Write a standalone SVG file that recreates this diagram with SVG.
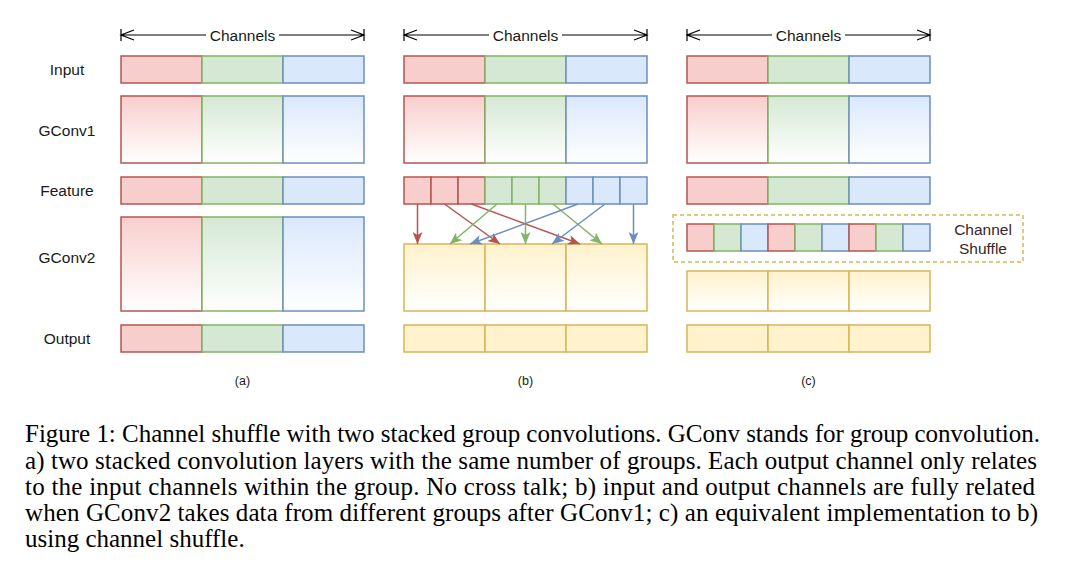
<svg xmlns="http://www.w3.org/2000/svg" width="1070" height="567" viewBox="0 0 1070 567">
<style>
.lbl{font-family:"Liberation Sans",Arial,sans-serif;font-size:15.5px;fill:#1a1a1a;text-anchor:middle}
.sub{font-family:"Liberation Sans",Arial,sans-serif;font-size:12.5px;fill:#1a1a1a;text-anchor:middle}
.cap{font-family:"Liberation Serif","Times New Roman",serif;font-size:25px;fill:#000}
.r{fill:#f8cecc;stroke:#b85450;stroke-width:1.5}
.g{fill:#d5e8d4;stroke:#82b366;stroke-width:1.5}
.b{fill:#dae8fc;stroke:#6c8ebf;stroke-width:1.5}
.y{fill:#fff2cc;stroke:#d6b656;stroke-width:1.5}
.rg{fill:url(#gr);stroke:#b85450;stroke-width:1.5}
.gg{fill:url(#gg);stroke:#82b366;stroke-width:1.5}
.bg{fill:url(#gb);stroke:#6c8ebf;stroke-width:1.5}
.yg{fill:url(#gy);stroke:#d6b656;stroke-width:1.5}
.dim{stroke:#000;stroke-width:1.2;fill:none}
.ar{stroke:#b85450;stroke-width:1.5;fill:none;marker-end:url(#mr)}
.ag{stroke:#82b366;stroke-width:1.5;fill:none;marker-end:url(#mg)}
.ab{stroke:#6c8ebf;stroke-width:1.5;fill:none;marker-end:url(#mb)}
</style>
<defs>
<linearGradient id="gr" x1="0" y1="0" x2="0" y2="1"><stop offset="0" stop-color="#f8cecc"/><stop offset="1" stop-color="#ffffff"/></linearGradient>
<linearGradient id="gg" x1="0" y1="0" x2="0" y2="1"><stop offset="0" stop-color="#d5e8d4"/><stop offset="1" stop-color="#ffffff"/></linearGradient>
<linearGradient id="gb" x1="0" y1="0" x2="0" y2="1"><stop offset="0" stop-color="#dae8fc"/><stop offset="1" stop-color="#ffffff"/></linearGradient>
<linearGradient id="gy" x1="0" y1="0" x2="0" y2="1"><stop offset="0" stop-color="#fff2cc"/><stop offset="1" stop-color="#ffffff"/></linearGradient>
<marker id="mr" markerUnits="userSpaceOnUse" viewBox="0 0 12 10" refX="12" refY="5" markerWidth="12" markerHeight="10" orient="auto"><path d="M0,0 L12,5 L0,10 L3,5 z" fill="#b85450"/></marker>
<marker id="mg" markerUnits="userSpaceOnUse" viewBox="0 0 12 10" refX="12" refY="5" markerWidth="12" markerHeight="10" orient="auto"><path d="M0,0 L12,5 L0,10 L3,5 z" fill="#82b366"/></marker>
<marker id="mb" markerUnits="userSpaceOnUse" viewBox="0 0 12 10" refX="12" refY="5" markerWidth="12" markerHeight="10" orient="auto"><path d="M0,0 L12,5 L0,10 L3,5 z" fill="#6c8ebf"/></marker>
</defs>
<rect width="1070" height="567" fill="#ffffff"/>

<g id="row-labels">
<text class="lbl" x="67" y="74.5">Input</text>
<text class="lbl" x="67" y="135.5">GConv1</text>
<text class="lbl" x="67" y="195.5">Feature</text>
<text class="lbl" x="67" y="262.5">GConv2</text>
<text class="lbl" x="67" y="343.5">Output</text>
</g>

<g id="dimensions">
<g id="dim-a">
<path class="dim" d="M121,35 H206 M279,35 H364 M121,29 V41 M364,29 V41 M134,30 L121,35 L134,40 M351,30 L364,35 L351,40"/>
<text class="lbl" x="242.5" y="40.5">Channels</text>
</g>
<g id="dim-b">
<path class="dim" d="M404,35 H489 M562,35 H647 M404,29 V41 M647,29 V41 M417,30 L404,35 L417,40 M634,30 L647,35 L634,40"/>
<text class="lbl" x="525.5" y="40.5">Channels</text>
</g>
<g id="dim-c">
<path class="dim" d="M687,35 H772 M845,35 H930 M687,29 V41 M930,29 V41 M700,30 L687,35 L700,40 M917,30 L930,35 L917,40"/>
<text class="lbl" x="808.5" y="40.5">Channels</text>
</g>
</g>

<!-- Panel a -->
<g id="a-input"><rect class="r" x="121" y="56" width="81" height="27"/><rect class="g" x="202" y="56" width="81" height="27"/><rect class="b" x="283" y="56" width="81" height="27"/></g>
<g id="a-gconv1"><rect class="rg" x="121" y="96" width="81" height="67"/><rect class="gg" x="202" y="96" width="81" height="67"/><rect class="bg" x="283" y="96" width="81" height="67"/></g>
<g id="a-feature"><rect class="r" x="121" y="177" width="81" height="27"/><rect class="g" x="202" y="177" width="81" height="27"/><rect class="b" x="283" y="177" width="81" height="27"/></g>
<g id="a-gconv2"><rect class="rg" x="121" y="217" width="81" height="94"/><rect class="gg" x="202" y="217" width="81" height="94"/><rect class="bg" x="283" y="217" width="81" height="94"/></g>
<g id="a-output"><rect class="r" x="121" y="325" width="81" height="27"/><rect class="g" x="202" y="325" width="81" height="27"/><rect class="b" x="283" y="325" width="81" height="27"/></g>
<text class="sub" x="242.5" y="384.5">(a)</text>

<!-- Panel b -->
<g id="b-input"><rect class="r" x="404" y="56" width="81" height="27"/><rect class="g" x="485" y="56" width="81" height="27"/><rect class="b" x="566" y="56" width="81" height="27"/></g>
<g id="b-gconv1"><rect class="rg" x="404" y="96" width="81" height="67"/><rect class="gg" x="485" y="96" width="81" height="67"/><rect class="bg" x="566" y="96" width="81" height="67"/></g>
<g id="b-feature">
<rect class="r" x="404" y="177" width="27" height="27"/><rect class="r" x="431" y="177" width="27" height="27"/><rect class="r" x="458" y="177" width="27" height="27"/>
<rect class="g" x="485" y="177" width="27" height="27"/><rect class="g" x="512" y="177" width="27" height="27"/><rect class="g" x="539" y="177" width="27" height="27"/>
<rect class="b" x="566" y="177" width="27" height="27"/><rect class="b" x="593" y="177" width="27" height="27"/><rect class="b" x="620" y="177" width="27" height="27"/>
</g>
<g id="b-gconv2"><rect class="yg" x="404" y="244" width="81" height="67"/><rect class="yg" x="485" y="244" width="81" height="67"/><rect class="yg" x="566" y="244" width="81" height="67"/></g>
<g id="b-output"><rect class="y" x="404" y="325" width="81" height="27"/><rect class="y" x="485" y="325" width="81" height="27"/><rect class="y" x="566" y="325" width="81" height="27"/></g>
<text class="sub" x="525.5" y="384.5">(b)</text>

<g id="connectors">
<line class="ar" x1="417.5" y1="204" x2="417.5" y2="244"/>
<line class="ar" x1="444.5" y1="204" x2="500" y2="244"/>
<line class="ar" x1="471.5" y1="204" x2="580" y2="244"/>
<line class="ag" x1="497" y1="204" x2="450" y2="244"/>
<line class="ag" x1="525.5" y1="204" x2="525.5" y2="244"/>
<line class="ag" x1="553" y1="204" x2="602" y2="244"/>
<line class="ab" x1="578" y1="204" x2="470" y2="244"/>
<line class="ab" x1="605" y1="204" x2="552" y2="244"/>
<line class="ab" x1="633.5" y1="204" x2="633.5" y2="244"/>
</g>

<!-- Panel c -->
<g id="c-input"><rect class="r" x="687" y="56" width="81" height="27"/><rect class="g" x="768" y="56" width="81" height="27"/><rect class="b" x="849" y="56" width="81" height="27"/></g>
<g id="c-gconv1"><rect class="rg" x="687" y="96" width="81" height="67"/><rect class="gg" x="768" y="96" width="81" height="67"/><rect class="bg" x="849" y="96" width="81" height="67"/></g>
<g id="c-feature"><rect class="r" x="687" y="177" width="81" height="27"/><rect class="g" x="768" y="177" width="81" height="27"/><rect class="b" x="849" y="177" width="81" height="27"/></g>
<g id="c-shuffle">
<rect x="673" y="215" width="350" height="47" fill="none" stroke="#d6b656" stroke-width="1.5" stroke-dasharray="4,3"/>
<rect class="r" x="687" y="224" width="27" height="27"/><rect class="g" x="714" y="224" width="27" height="27"/><rect class="b" x="741" y="224" width="27" height="27"/>
<rect class="r" x="768" y="224" width="27" height="27"/><rect class="g" x="795" y="224" width="27" height="27"/><rect class="b" x="822" y="224" width="27" height="27"/>
<rect class="r" x="849" y="224" width="27" height="27"/><rect class="g" x="876" y="224" width="27" height="27"/><rect class="b" x="903" y="224" width="27" height="27"/>
<text class="lbl" x="983" y="235" style="fill:#3a2626">Channel</text>
<text class="lbl" x="983" y="254" style="fill:#3a2626">Shuffle</text>
</g>
<g id="c-gconv2"><rect class="yg" x="687" y="271" width="81" height="40"/><rect class="yg" x="768" y="271" width="81" height="40"/><rect class="yg" x="849" y="271" width="81" height="40"/></g>
<g id="c-output"><rect class="y" x="687" y="325" width="81" height="27"/><rect class="y" x="768" y="325" width="81" height="27"/><rect class="y" x="849" y="325" width="81" height="27"/></g>
<text class="sub" x="808.5" y="384.5">(c)</text>

<g id="caption">
<text class="cap" x="25" y="442" textLength="1015" lengthAdjust="spacing">Figure 1: Channel shuffle with two stacked group convolutions. GConv stands for group convolution.</text>
<text class="cap" x="25" y="468.5" textLength="1012" lengthAdjust="spacing">a) two stacked convolution layers with the same number of groups. Each output channel only relates</text>
<text class="cap" x="25" y="494.8" textLength="1010" lengthAdjust="spacing">to the input channels within the group. No cross talk; b) input and output channels are fully related</text>
<text class="cap" x="25" y="521" textLength="1013" lengthAdjust="spacing">when GConv2 takes data from different groups after GConv1; c) an equivalent implementation to b)</text>
<text class="cap" x="25" y="547">using channel shuffle.</text>
</g>
</svg>
